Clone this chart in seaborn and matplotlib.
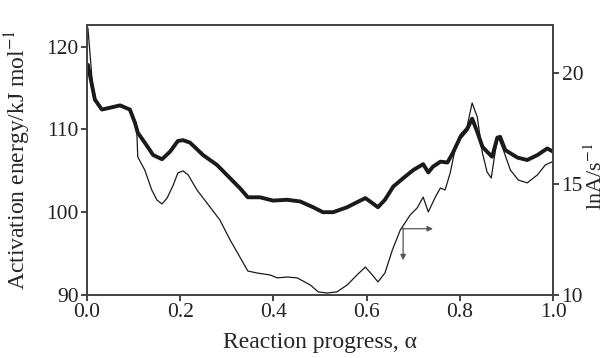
import matplotlib
matplotlib.use("Agg")
import matplotlib.pyplot as plt
import seaborn as sns
import pandas as pd

# Activation energy (left axis), thick curve
alpha_ea = [0.002, 0.017, 0.032, 0.056, 0.071, 0.092, 0.103, 0.109, 0.124, 0.142,
            0.161, 0.178, 0.195, 0.206, 0.221, 0.249, 0.279, 0.307, 0.328, 0.345,
            0.371, 0.399, 0.429, 0.457, 0.485, 0.506, 0.528, 0.558, 0.579, 0.597,
            0.612, 0.624, 0.639, 0.657, 0.678, 0.700, 0.721, 0.732, 0.742, 0.758,
            0.773, 0.785, 0.800, 0.815, 0.826, 0.837, 0.848, 0.858, 0.869, 0.880,
            0.886, 0.897, 0.923, 0.944, 0.966, 0.987, 1.000]
ea = [117.8, 113.6, 112.4, 112.7, 112.9, 112.4, 110.8, 109.6, 108.4, 106.9,
      106.4, 107.3, 108.6, 108.7, 108.4, 106.9, 105.7, 104.1, 102.9, 101.8,
      101.8, 101.4, 101.5, 101.3, 100.6, 100.0, 100.0, 100.6, 101.2, 101.7,
      101.1, 100.6, 101.5, 103.1, 104.1, 105.1, 105.8, 104.8, 105.5, 106.1,
      106.0, 107.2, 109.0, 110.0, 111.3, 109.7, 107.9, 107.3, 106.7, 109.0,
      109.1, 107.5, 106.6, 106.3, 106.9, 107.7, 107.3]

# ln A (right axis), thin curve
alpha_lna = [0.002, 0.006, 0.011, 0.017, 0.032, 0.056, 0.071, 0.092, 0.103, 0.107,
             0.109, 0.124, 0.139, 0.150, 0.161, 0.172, 0.185, 0.195, 0.206, 0.217,
             0.236, 0.264, 0.285, 0.307, 0.328, 0.345, 0.365, 0.393, 0.408, 0.429,
             0.451, 0.479, 0.496, 0.515, 0.536, 0.558, 0.579, 0.597, 0.612, 0.624,
             0.639, 0.655, 0.672, 0.693, 0.708, 0.721, 0.732, 0.747, 0.758, 0.768,
             0.779, 0.790, 0.800, 0.815, 0.826, 0.837, 0.848, 0.858, 0.867, 0.876,
             0.882, 0.893, 0.908, 0.925, 0.944, 0.966, 0.983, 0.998]
lna = [22.03, 21.04, 19.68, 18.78, 18.33, 18.47, 18.51, 18.33, 17.75, 17.30,
       16.22, 15.63, 14.73, 14.28, 14.10, 14.37, 14.95, 15.50, 15.59, 15.41,
       14.73, 13.96, 13.38, 12.48, 11.71, 11.08, 10.99, 10.90, 10.77, 10.81,
       10.77, 10.45, 10.14, 10.09, 10.14, 10.45, 10.90, 11.26, 10.90, 10.59,
       10.99, 12.03, 12.93, 13.60, 13.92, 14.41, 13.74, 14.41, 14.82, 14.73,
       15.50, 16.62, 17.21, 17.57, 18.65, 18.02, 16.40, 15.54, 15.27, 16.53,
       17.12, 16.53, 15.63, 15.18, 15.05, 15.41, 15.86, 16.00]

x_ticks = [0.0, 0.2, 0.4, 0.6, 0.8, 1.0]
ea_ticks = [90, 100, 110, 120]
lna_ticks = [10, 15, 20]

sns.set_style("ticks")
plt.rcParams["font.family"] = ["Liberation Serif", "DejaVu Serif"]
plt.rcParams["mathtext.fontset"] = "stix"
plt.rcParams["axes.linewidth"] = 1.3

df_ea = pd.DataFrame({"alpha": alpha_ea, "Ea": ea})
df_lna = pd.DataFrame({"alpha": alpha_lna, "lnA": lna})

fig = plt.figure(figsize=(6.08, 3.58), dpi=100)
ax = fig.add_axes([0.143, 0.176, 0.767, 0.754])
ax2 = ax.twinx()

sns.lineplot(data=df_ea, x="alpha", y="Ea", ax=ax, color="#1a1a1a", linewidth=2.8,
             sort=False, estimator=None)
sns.lineplot(data=df_lna, x="alpha", y="lnA", ax=ax2, color="#1a1a1a", linewidth=0.9,
             sort=False, estimator=None)

ax.set_xlim(0, 1.0)
ax.set_ylim(90, 122.6)
ax2.set_ylim(10, 22.16)
ax.set_xticks(x_ticks)
ax.set_xticklabels([f"{v:.1f}" for v in x_ticks])
ax.set_yticks(ea_ticks)
ax2.set_yticks(lna_ticks)

for a in (ax, ax2):
    a.tick_params(direction="out", length=4, width=1.2, labelsize=15.5,
                  colors="#222222", pad=2)
    for s in a.spines.values():
        s.set_visible(True)
        s.set_color("#444444")
        s.set_linewidth(1.3)

ax.set_xlabel("Reaction progress, α", fontsize=17)
ax.set_ylabel("Activation energy/kJ mol$^{-1}$", fontsize=17)
ax2.set_ylabel("lnA/s$^{-1}$", fontsize=16)
ax.xaxis.set_label_coords(0.5, -0.137)
ax.yaxis.set_label_coords(-0.116, 0.5)
ax2.yaxis.set_label_coords(1.067, 0.44)

# arrows indicating axis of the thin curve
ax.annotate("", xy=(0.742, 98.0), xytext=(0.676, 98.0),
            arrowprops=dict(arrowstyle="-|>", color="#555555", lw=0.9,
                            mutation_scale=8, shrinkA=0, shrinkB=0))
ax.annotate("", xy=(0.678, 94.2), xytext=(0.678, 98.1),
            arrowprops=dict(arrowstyle="-|>", color="#555555", lw=0.9,
                            mutation_scale=8, shrinkA=0, shrinkB=0))

fig.savefig("out.png", dpi=100)
